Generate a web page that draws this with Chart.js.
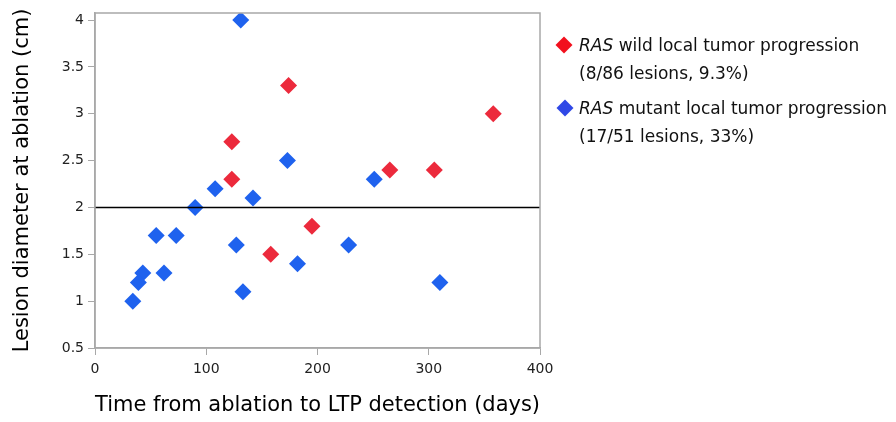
<!DOCTYPE html>
<html>
<head>
<meta charset="utf-8">
<script src="https://cdn.jsdelivr.net/npm/chart.js@4.4.1/dist/chart.umd.min.js"></script>
<style>
  html, body { margin:0; padding:0; background:#fff; }
  #wrap { position:relative; width:896px; height:422px; }
  #c { position:absolute; left:0; top:0; }
  .leg { position:absolute; left:579px; font-family:"DejaVu Sans",sans-serif; font-size:17px; color:#111; line-height:28px; white-space:nowrap; }
  .dia { position:absolute; width:12px; height:12px; transform:rotate(45deg); }
</style>
</head>
<body>
<div id="wrap">
  <canvas id="c" width="896" height="422"></canvas>
  <div class="dia" style="left:558px; top:39px; background:#f2101e;"></div>
  <div class="leg" style="top:31px;"><i>RAS</i> wild local tumor progression<br>(8/86 lesions, 9.3%)</div>
  <div class="dia" style="left:559px; top:102px; background:#2f48e6;"></div>
  <div class="leg" style="top:94px;"><i>RAS</i> mutant local tumor progression<br>(17/51 lesions, 33%)</div>
</div>
<script>
// Data
const wildDays = [123, 123, 174, 265, 305, 358, 195, 158];
const wildDiam = [2.7, 2.3, 3.3, 2.4, 2.4, 3.0, 1.8, 1.5];
const mutantDays = [131, 173, 108, 142, 90, 55, 73, 127, 228, 182, 251, 62, 43, 39, 34, 133, 310];
const mutantDiam = [4.0, 2.5, 2.2, 2.1, 2.0, 1.7, 1.7, 1.6, 1.6, 1.4, 2.3, 1.3, 1.3, 1.2, 1.0, 1.1, 1.2];
const thresholdDays = [0, 400];
const thresholdDiam = [2, 2];
const xTicks = [0, 100, 200, 300, 400];
const yTicks = [0.5, 1, 1.5, 2, 2.5, 3, 3.5, 4];
const yTickLabels = ['0.5', '1', '1.5', '2', '2.5', '3', '3.5', '4'];

const toPts = (xs, ys) => xs.map((x, i) => ({ x: x, y: ys[i] }));

const framePlugin = {
  id: 'frame',
  afterDraw(chart) {
    const a = chart.chartArea, ctx = chart.ctx;
    ctx.save();
    ctx.strokeStyle = '#a8a8a8';
    ctx.lineWidth = 1.5;
    ctx.strokeRect(a.left, a.top, a.right - a.left, a.bottom - a.top);
    ctx.restore();
  }
};

const tickFont = { family: "'DejaVu Sans',sans-serif", size: 14 };
const titleFont = { family: "'DejaVu Sans',sans-serif", size: 21 };

new Chart(document.getElementById('c'), {
  type: 'scatter',
  data: {
    datasets: [
      {
        type: 'line',
        label: 'threshold',
        data: toPts(thresholdDays, thresholdDiam),
        borderColor: '#000',
        borderWidth: 1.5,
        pointRadius: 0,
        fill: false,
        order: 0
      },
      {
        label: 'RAS wild local tumor progression',
        data: toPts(wildDays, wildDiam),
        pointStyle: 'rectRot',
        pointRadius: 8.5,
        pointHoverRadius: 8.5,
        backgroundColor: '#ec2a3c',
        borderColor: '#ec2a3c',
        borderWidth: 0,
        order: 1
      },
      {
        label: 'RAS mutant local tumor progression',
        data: toPts(mutantDays, mutantDiam),
        pointStyle: 'rectRot',
        pointRadius: 8.5,
        pointHoverRadius: 8.5,
        backgroundColor: '#1f62ee',
        borderColor: '#1f62ee',
        borderWidth: 0,
        order: 1
      }
    ]
  },
  options: {
    responsive: false,
    animation: false,
    devicePixelRatio: 1,
    layout: { padding: { left: 0, right: 356, top: 13, bottom: 0 } },
    plugins: { legend: { display: false }, tooltip: { enabled: false } },
    scales: {
      x: {
        type: 'linear',
        min: 0, max: 400,
        afterFit(s) { s.height = 74; },
        afterBuildTicks(s) { s.ticks = xTicks.map(v => ({ value: v })); },
        grid: { drawOnChartArea: false, drawTicks: true, tickLength: 7, color: '#a8a8a8' },
        border: { color: '#a8a8a8', width: 1.5 },
        ticks: { font: tickFont, color: '#222', padding: 6 },
        title: { display: true, text: 'Time from ablation to LTP detection (days)', font: titleFont, color: '#000', padding: { top: 4, bottom: 4 } }
      },
      y: {
        type: 'linear',
        min: 0.5, max: 4.075,
        afterFit(s) { s.width = 95; },
        afterBuildTicks(s) { s.ticks = yTicks.map(v => ({ value: v })); },
        grid: { drawOnChartArea: false, drawTicks: true, tickLength: 7, color: '#a8a8a8' },
        border: { color: '#a8a8a8', width: 1.5 },
        ticks: {
          font: tickFont, color: '#222', padding: 4,
          callback(value) { const i = yTicks.indexOf(value); return i >= 0 ? yTickLabels[i] : ''; }
        },
        title: { display: true, text: 'Lesion diameter at ablation (cm)', font: titleFont, color: '#000', padding: { top: 10, bottom: 6 } }
      }
    }
  },
  plugins: [framePlugin]
});
</script>
</body>
</html>
